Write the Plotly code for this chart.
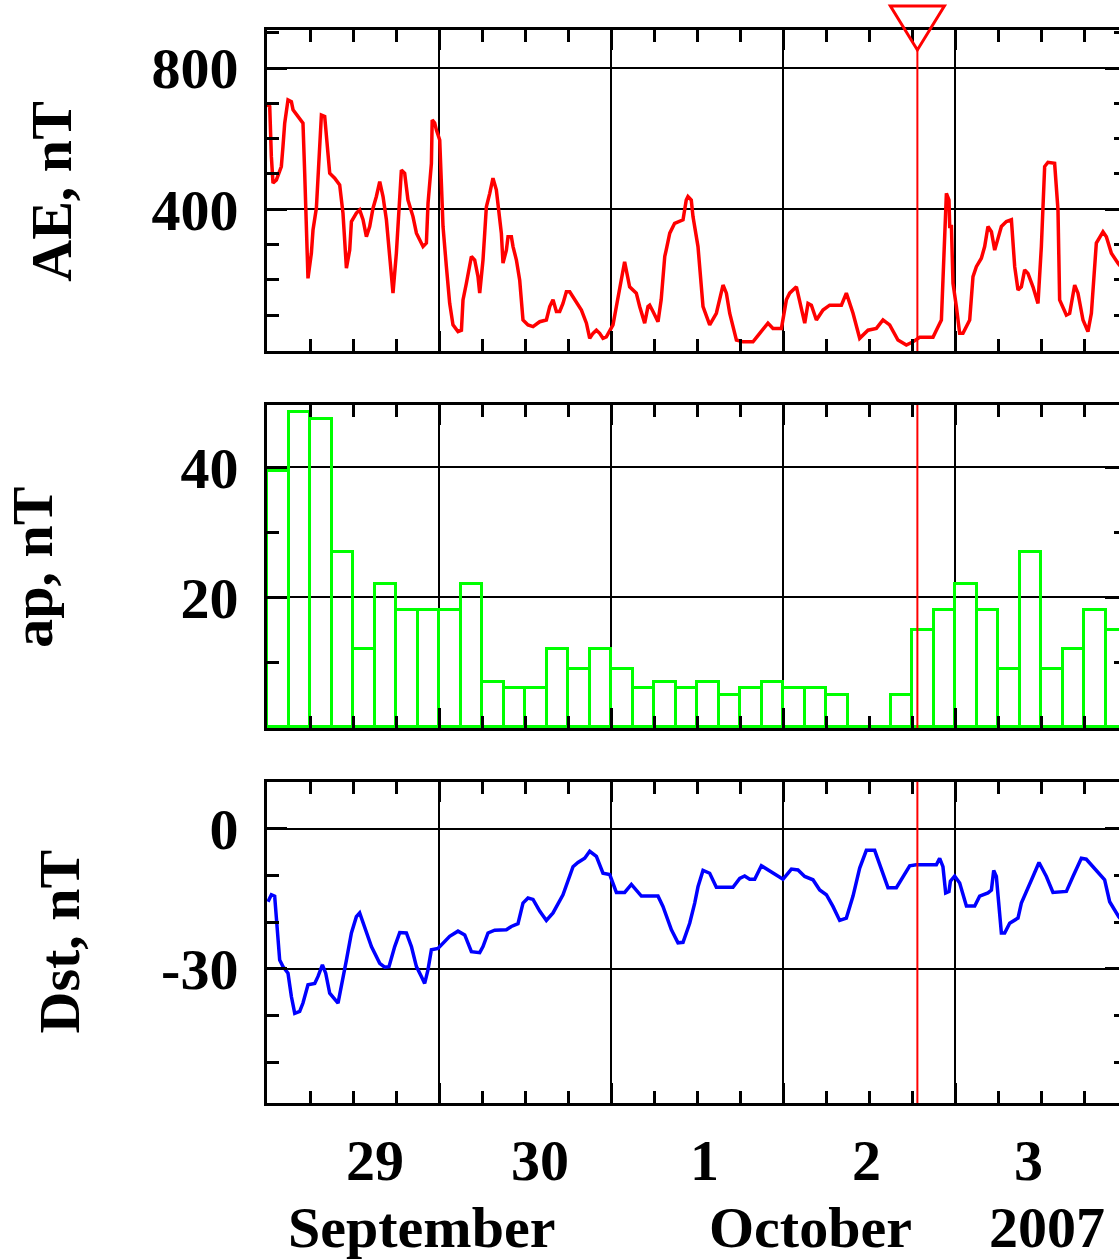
import plotly.graph_objects as go

# Time axis: hours since 2007-09-29 00:00 UT
EVENT_HOUR = 90.75          # marked event, 2 October ~18:45 UT

# AE index, nT
ae_hours = [0.0, 0.38, 0.61, 0.84, 1.31, 2.0, 2.23, 2.47, 2.93, 3.4,
            3.63, 4.56, 5.02, 5.26, 5.5, 5.72, 6.19, 6.42, 6.89, 7.12,
            7.59, 8.05, 8.29, 8.75, 9.45, 10.14, 10.6, 10.84, 11.08, 11.54,
            11.78, 12.47, 12.93, 13.4, 13.87, 14.33, 14.79, 15.26, 15.73, 16.19,
            16.66, 17.12, 17.58, 18.05, 18.52, 18.75, 19.21, 19.67, 20.37, 20.85,
            21.77, 22.24, 22.47, 22.94, 23.05, 23.4, 23.63, 24.1, 24.33, 24.56,
            25.03, 25.49, 25.95, 26.65, 27.13, 27.35, 27.82, 28.05, 28.52, 28.98,
            29.44, 29.68, 30.14, 30.38, 30.61, 31.08, 31.53, 32.0, 32.23, 32.7,
            32.93, 33.4, 33.63, 34.1, 34.33, 34.8, 35.26, 35.72, 36.42, 37.12,
            38.05, 38.98, 39.45, 39.91, 40.38, 40.84, 41.3, 41.77, 42.24, 42.93,
            43.87, 44.57, 45.03, 45.49, 45.96, 46.42, 46.88, 47.35, 47.82, 48.28,
            48.75, 49.45, 49.9, 50.6, 51.53, 52.0, 52.7, 53.16, 53.4, 53.86,
            54.56, 55.0, 55.5, 55.7, 56.2, 56.88, 57.35, 58.05, 58.5, 58.74,
            59.2, 59.44, 60.14, 60.84, 61.77, 62.7, 63.63, 64.1, 64.56, 65.5,
            66.42, 67.81, 68.75, 69.9, 70.6, 71.78, 72.47, 72.93, 73.87, 74.56,
            75.03, 75.49, 75.96, 76.66, 77.58, 78.51, 80.15, 80.84, 81.77, 82.7,
            83.86, 85.03, 85.95, 86.88, 88.04, 89.21, 90.14, 91.07, 92.93, 93.4,
            94.1, 94.32, 94.56, 94.8, 95.16, 95.26, 95.5, 95.72, 96.19, 96.65,
            97.11, 97.59, 98.05, 98.51, 98.98, 99.68, 100.14, 100.6, 101.08, 101.54,
            102.23, 102.47, 103.17, 103.87, 104.33, 104.79, 105.26, 105.72, 106.18, 106.88,
            107.58, 108.05, 108.51, 108.97, 109.9, 110.37, 110.6, 111.06, 111.54, 112.0,
            112.7, 113.16, 113.86, 114.55, 115.03, 115.72, 116.65, 117.12, 117.82, 118.74,
            120.0]
ae_nT = [696, 691, 549, 474, 483, 521, 578, 644, 710, 705,
         682, 658, 644, 502, 351, 204, 275, 341, 403, 492,
         667, 663, 611, 502, 488, 469, 389, 313, 233, 284,
         365, 389, 398, 370, 322, 351, 403, 436, 478, 436,
         370, 266, 162, 275, 426, 511, 502, 426, 379, 332,
         294, 304, 417, 530, 653, 644, 625, 596, 474, 351,
         237, 133, 72, 53, 57, 143, 190, 218, 266, 256,
         209, 162, 256, 332, 407, 445, 488, 455, 417, 332,
         247, 284, 322, 322, 294, 256, 199, 86, 72, 67,
         81, 86, 124, 143, 110, 110, 133, 166, 166, 143,
         114, 77, 34, 48, 57, 48, 34, 38, 53, 72,
         124, 195, 251, 180, 162, 124, 77, 124, 128, 110,
         81, 143, 266, 284, 332, 360, 365, 370, 426, 436,
         426, 379, 294, 124, 72, 105, 185, 162, 105, 29,
         24, 24, 48, 77, 62, 62, 143, 162, 180, 124,
         77, 133, 128, 86, 114, 128, 128, 162, 105, 34,
         57, 62, 86, 72, 29, 15, 24, 37, 37, 57,
         86, 199, 322, 445, 426, 351, 351, 190, 124, 48,
         48, 67, 86, 209, 237, 261, 294, 351, 336, 284,
         332, 351, 365, 370, 237, 171, 180, 228, 218, 180,
         133, 294, 521, 533, 530, 398, 143, 119, 100, 105,
         185, 162, 86, 53, 105, 304, 336, 322, 275, 247,
         215]

# ap index, nT, 3-hour intervals
AP_STEP = 3
ap_nT = [39.5, 48.5, 47.5, 27, 12, 22, 18, 18, 18, 22,
         7, 6, 6, 12, 9, 12, 9, 6, 7, 6,
         7, 5, 6, 7, 6, 6, 5, 0, 0, 5,
         15, 18, 22, 18, 9, 27, 9, 12, 18, 15]
ap_hours = [AP_STEP * i + AP_STEP / 2 for i in range(len(ap_nT))]

# Dst index, nT
dst_hours = [0.14, 0.61, 1.07, 1.31, 1.77, 2.23, 2.93, 3.4, 3.87, 4.56,
             5.02, 5.72, 6.66, 7.12, 7.73, 8.19, 8.75, 9.91, 10.38, 11.08,
             11.78, 12.47, 12.93, 13.63, 14.57, 15.73, 16.42, 17.02, 17.82, 18.52,
             19.45, 20.15, 20.85, 21.54, 22.0, 22.46, 22.94, 23.86, 24.56, 25.49,
             26.65, 27.59, 28.52, 29.68, 30.14, 30.84, 31.77, 33.4, 34.1, 35.02,
             35.72, 36.42, 37.12, 38.05, 38.98, 39.91, 41.3, 42.7, 43.39, 44.33,
             45.03, 45.96, 46.88, 47.82, 48.75, 49.91, 50.84, 52.24, 54.56, 55.25,
             56.43, 57.35, 58.05, 58.98, 59.68, 60.14, 60.84, 61.77, 62.7, 65.02,
             65.96, 66.65, 67.35, 68.05, 68.98, 70.14, 72.0, 73.17, 74.09, 75.03,
             76.18, 77.12, 78.05, 78.97, 79.91, 80.84, 81.77, 82.7, 83.63, 84.79,
             85.73, 86.65, 87.82, 88.74, 89.68, 90.61, 93.4, 93.86, 94.32, 94.7,
             95.16, 95.36, 95.95, 96.65, 97.59, 98.75, 99.44, 100.6, 101.08, 101.4,
             101.77, 102.47, 102.93, 103.63, 104.79, 105.26, 105.96, 106.88, 107.72, 108.75,
             109.67, 111.54, 112.46, 113.63, 114.32, 115.72, 116.88, 117.58, 118.84, 120.0]
dst_nT = [-15.6, -14.1, -14.4, -18.8, -28.1, -29.5, -30.9, -35.9, -39.5, -39.1,
          -37.3, -33.4, -33.1, -31.6, -29.1, -30.9, -35.2, -37.3, -33.8, -28.1,
          -22.3, -18.8, -18.0, -20.9, -25.2, -28.8, -29.6, -29.5, -25.2, -22.2,
          -22.3, -25.2, -29.5, -31.6, -33.1, -30.2, -25.9, -25.6, -24.4, -23.0,
          -21.9, -22.7, -26.3, -26.5, -25.2, -22.3, -21.7, -21.6, -20.9, -20.3,
          -15.9, -14.8, -15.1, -17.6, -19.6, -18.0, -14.1, -8.1, -7.2, -6.3,
          -4.8, -5.9, -9.5, -9.8, -13.6, -13.6, -11.9, -14.4, -14.4, -16.6,
          -21.6, -24.4, -24.3, -20.2, -15.9, -12.4, -8.9, -9.5, -12.5, -12.5,
          -10.6, -10.1, -10.8, -10.8, -7.9, -9.0, -10.8, -8.6, -8.8, -10.2,
          -10.9, -13.1, -14.1, -16.6, -19.6, -19.1, -14.4, -8.4, -4.6, -4.6,
          -8.8, -12.6, -12.6, -10.2, -7.9, -7.7, -7.7, -6.3, -8.1, -13.7,
          -13.4, -11.2, -10.1, -11.6, -16.5, -16.5, -14.4, -13.7, -13.1, -8.9,
          -10.2, -22.3, -22.3, -20.2, -19.1, -15.9, -13.6, -10.2, -7.2, -10.2,
          -13.6, -13.4, -10.2, -6.3, -6.5, -8.8, -10.9, -15.6, -18.8, -21.0]

# Axis labelling
day_labels = ["29", "30", "1", "2", "3"]
day_label_hours = [15.1, 38.1, 61.0, 83.6, 106.2]
month_labels = ["September", "October", "2007"]
month_label_hours = [21.5, 75.8, 108.8]

ae_ticks = [400, 800]
ap_ticks = [20, 40]
dst_ticks = [-30, 0]

# ---- page geometry --------------------------------------------------------
W, H = 1119, 1260
M_L, M_R, M_T, M_B = 267, 0, 30, 157
PLOT_BOTTOM = H - M_B            # pixel row of the lowest x axis
PLOT_W = W - M_L - M_R
PLOT_H = H - M_T - M_B
PX_PER_HOUR = 172 / 24
X_END = PLOT_W / PX_PER_HOUR

FONT = dict(family="Liberation Serif", size=58, color="black", weight="bold")
RED, GREEN, BLUE = "#ff0000", "#00ff00", "#0000ff"
LINE_W = 3.5


def px_to_paper_y(py):
    return (PLOT_BOTTOM - py) / PLOT_H


def px_to_paper_x(px):
    return (px - M_L) / PLOT_W


fig = go.Figure()

fig.add_trace(go.Scatter(x=ae_hours, y=ae_nT, mode="lines",
                         line=dict(color=RED, width=LINE_W),
                         xaxis="x", yaxis="y", hoverinfo="skip"))
fig.add_trace(go.Bar(x=ap_hours, y=ap_nT, width=AP_STEP,
                     marker=dict(color="rgba(0,0,0,0)",
                                 line=dict(color=GREEN, width=3)),
                     xaxis="x2", yaxis="y2", hoverinfo="skip"))
fig.add_trace(go.Scatter(x=dst_hours, y=dst_nT, mode="lines",
                         line=dict(color=BLUE, width=LINE_W),
                         xaxis="x3", yaxis="y3", hoverinfo="skip"))


def xaxis(anchor):
    return dict(
        anchor=anchor, range=[0, X_END], domain=[0, 1],
        showline=True, linewidth=3, linecolor="black", mirror="ticks",
        ticks="inside", tickmode="linear", tick0=0, dtick=24,
        ticklen=20, tickwidth=3, tickcolor="black",
        minor=dict(tickmode="linear", tick0=0, dtick=6, ticks="inside",
                   ticklen=12, tickwidth=3, tickcolor="black", showgrid=False),
        showgrid=True, gridcolor="black", gridwidth=1.5,
        showticklabels=False, zeroline=False, fixedrange=True,
    )


def yaxis(domain, rng, ticks, minor_step, anchor):
    return dict(
        anchor=anchor, domain=domain, range=rng,
        showline=True, linewidth=3, linecolor="black", mirror=False,
        ticks="inside", tickmode="array", tickvals=ticks,
        ticktext=[str(t) for t in ticks],
        ticklen=20, tickwidth=3, tickcolor="black",
        minor=dict(tickmode="linear", tick0=0, dtick=minor_step, ticks="inside",
                   ticklen=12, tickwidth=3, tickcolor="black", showgrid=False),
        showgrid=True, gridcolor="black", gridwidth=1.5,
        tickfont=FONT, ticklabelstandoff=14, zeroline=False, fixedrange=True,
    )


def right_stubs(over, rng, ticks, minor_step):
    # tick stubs along the right-hand frame edge (no line, no labels)
    return dict(
        overlaying=over, side="right", anchor="free", position=1,
        range=rng, showline=False, showgrid=False, zeroline=False,
        ticks="inside", tickmode="array", tickvals=ticks,
        ticklen=14, tickwidth=3, tickcolor="black", showticklabels=False,
        minor=dict(tickmode="linear", tick0=0, dtick=minor_step, ticks="inside",
                   ticklen=5, tickwidth=3, tickcolor="black", showgrid=False),
        fixedrange=True,
    )


AE_RANGE = [-2, 908]
AP_RANGE = [-0.1, 49.6]
DST_RANGE = [-58.7, 10.1]

dom1 = [px_to_paper_y(351), 1.0]
dom2 = [px_to_paper_y(728), px_to_paper_y(405)]
dom3 = [0.0, px_to_paper_y(781.7)]

fig.update_layout(
    width=W, height=H,
    margin=dict(l=M_L, r=M_R, t=M_T, b=M_B, pad=0),
    paper_bgcolor="white", plot_bgcolor="white",
    showlegend=False, bargap=0,
    xaxis=xaxis("y"), xaxis2=xaxis("y2"), xaxis3=xaxis("y3"),
    yaxis=yaxis(dom1, AE_RANGE, ae_ticks, 100, "x"),
    yaxis2=yaxis(dom2, AP_RANGE, ap_ticks, 10, "x2"),
    yaxis3=yaxis(dom3, DST_RANGE, dst_ticks, 10, "x3"),
    yaxis4=right_stubs("y", AE_RANGE, ae_ticks, 100),
    yaxis5=right_stubs("y2", AP_RANGE, ap_ticks, 10),
    yaxis6=right_stubs("y3", DST_RANGE, dst_ticks, 10),
)

# invisible carriers so the right-hand tick stubs are laid out
for xa, ya, rng in (("x", "y4", AE_RANGE), ("x2", "y5", AP_RANGE),
                    ("x3", "y6", DST_RANGE)):
    fig.add_trace(go.Scatter(x=[0], y=[rng[0]], mode="markers",
                             marker=dict(opacity=0), xaxis=xa, yaxis=ya,
                             hoverinfo="skip"))

# Event marker: vertical line through each panel and an open triangle on top
for xref, yref, top in (("x", "y domain", 0.94), ("x2", "y2 domain", 1),
                        ("x3", "y3 domain", 1)):
    fig.add_shape(type="line", xref=xref, yref=yref,
                  x0=EVENT_HOUR, x1=EVENT_HOUR, y0=0, y1=top,
                  line=dict(color=RED, width=2), layer="above")

fig.add_shape(type="path", xref="x", yref="y domain",
              xsizemode="pixel", ysizemode="pixel",
              xanchor=EVENT_HOUR, yanchor=1,
              path="M -27,24 L 27,24 L 0,-20 Z",
              line=dict(color=RED, width=3), fillcolor="rgba(0,0,0,0)",
              layer="above")

# Panel titles
titles = [("AE, nT", 52, 191.7), ("ap, nT", 33, 566.7), ("Dst, nT", 59, 941.5)]
for text, px, py in titles:
    fig.add_annotation(text=text, textangle=-90, showarrow=False,
                       xref="paper", yref="paper",
                       x=px_to_paper_x(px), y=px_to_paper_y(py),
                       xanchor="center", yanchor="middle", font=FONT)

# Date labels under the bottom panel
for lbl, h in zip(day_labels, day_label_hours):
    fig.add_annotation(text=lbl, showarrow=False, xref="x3", yref="paper",
                       x=h, y=px_to_paper_y(1160), borderpad=0,
                       xanchor="center", yanchor="middle", font=FONT)
for lbl, h in zip(month_labels, month_label_hours):
    fig.add_annotation(text=lbl, showarrow=False, xref="x3", yref="paper",
                       x=h, y=px_to_paper_y(1227), borderpad=0,
                       xanchor="center", yanchor="middle", font=FONT)

fig.write_html("out.html", config={"displayModeBar": False})
